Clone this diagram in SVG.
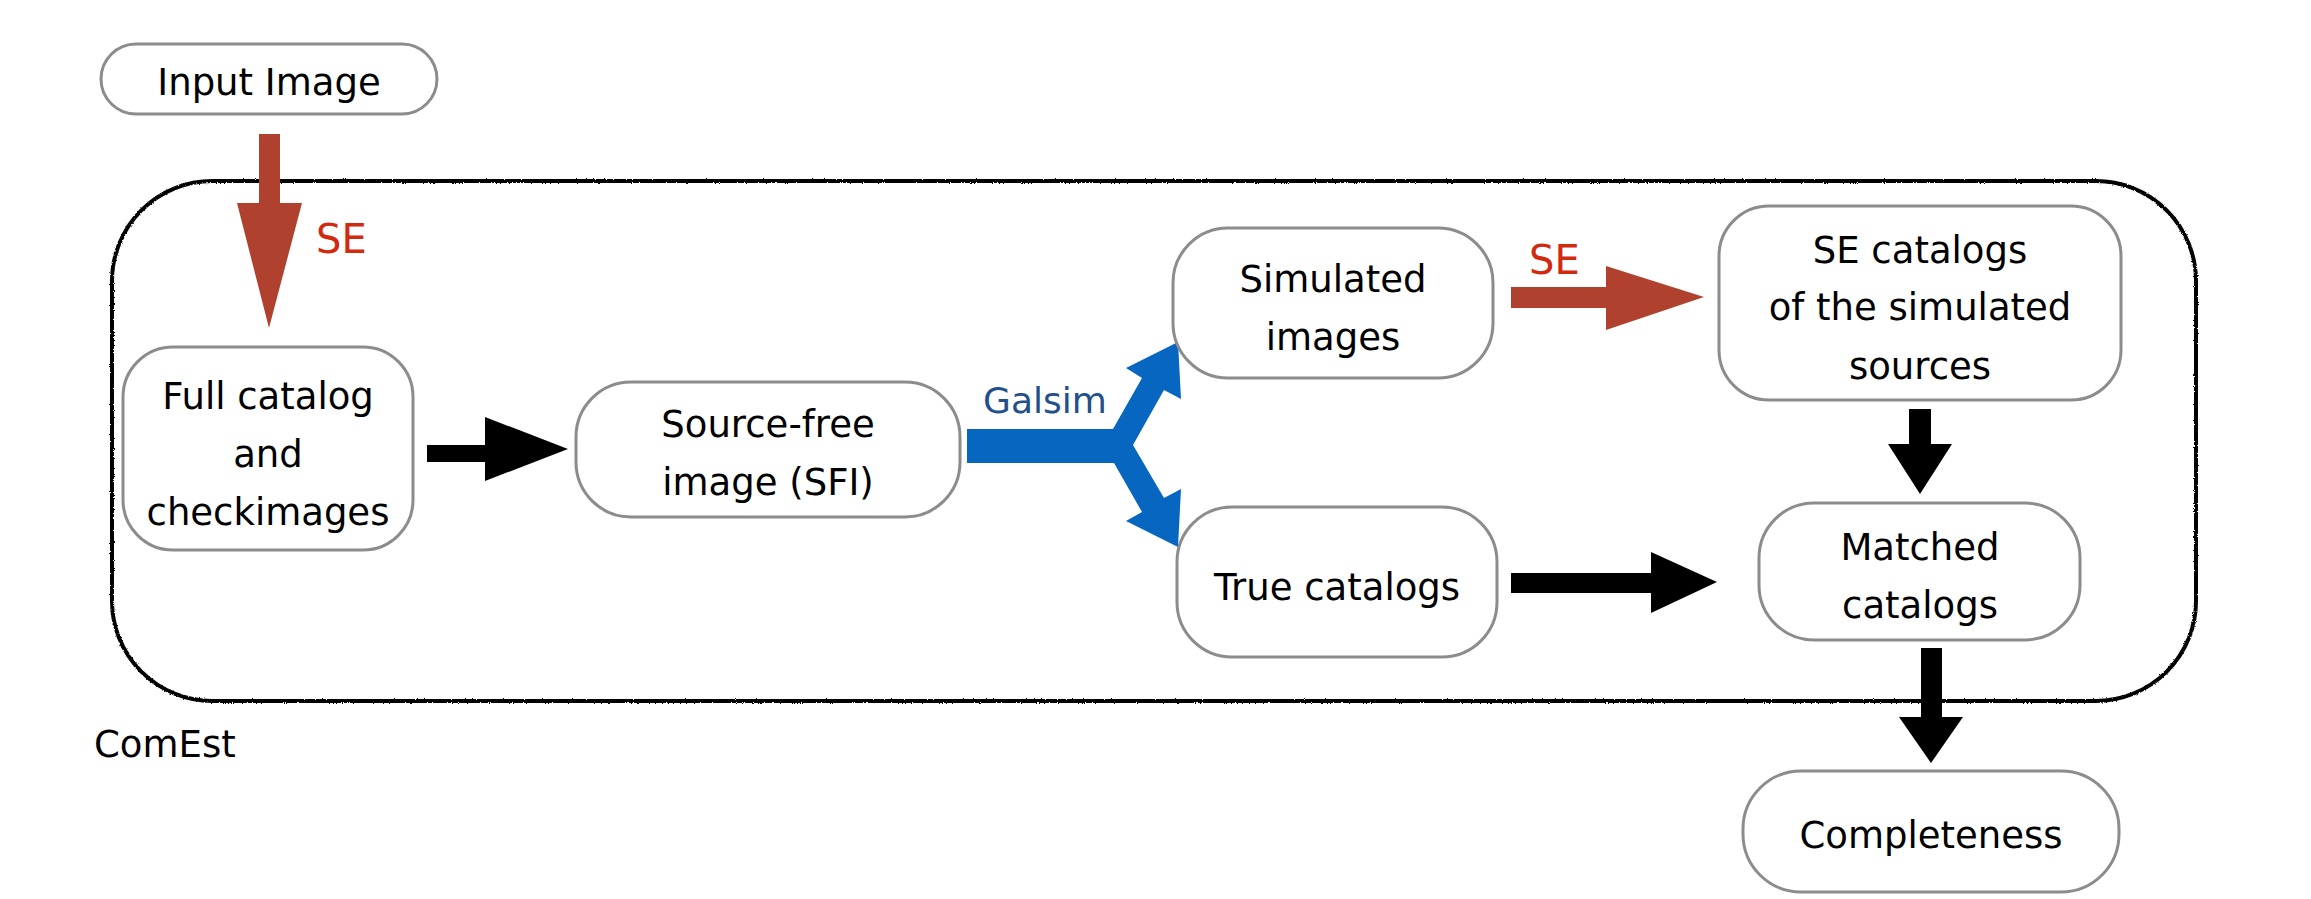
<svg xmlns="http://www.w3.org/2000/svg" width="2311" height="899" viewBox="0 0 2311 899">
  <style>
    .box { fill: #ffffff; stroke: #8c8c8c; stroke-width: 3; }
    .lbl { font-family: "DejaVu Sans", "Liberation Sans", sans-serif; font-size: 37px; fill: #000000; text-anchor: middle; }
    .se { font-family: "DejaVu Sans", "Liberation Sans", sans-serif; font-size: 40px; fill: #d22a0e; }
    .galsim { font-family: "DejaVu Sans", "Liberation Sans", sans-serif; font-size: 36px; fill: #23508a; }
    .red { fill: #b1412f; }
    .blk { fill: #000000; }
    .blue { fill: #0766c0; }
  </style>
  <defs>
    <filter id="rough" x="-2%" y="-5%" width="104%" height="110%">
      <feTurbulence type="fractalNoise" baseFrequency="0.9" numOctaves="2" seed="3" result="n"/>
      <feDisplacementMap in="SourceGraphic" in2="n" scale="2.5" xChannelSelector="R" yChannelSelector="G"/>
    </filter>
  </defs>
  <rect width="2311" height="899" fill="#ffffff"/>

  <g id="comest-container">
    <rect x="112" y="181" width="2084" height="520" rx="100" ry="100" fill="none" stroke="#000000" stroke-width="4" filter="url(#rough)"/>
    <text x="94" y="757" class="lbl" style="text-anchor:start">ComEst</text>
  </g>

  <g id="connectors">
    <polygon class="red" points="259,134 280,134 280,203 302,203 269,328 237,203 259,203"/>
    <text x="316" y="253" class="se">SE</text>
    <polygon class="blk" points="427,445 485,445 485,417 568,449 485,481 485,462 427,462"/>
    <polygon class="blue" points="967,429 1113,429 1142,378 1126,368 1178,342 1181,399 1164,390 1133,445 1164,498 1181,489 1178,547 1126,521 1142,512 1114,463 967,463"/>
    <text x="983" y="413" class="galsim">Galsim</text>
    <polygon class="red" points="1511,287 1606,287 1606,266 1704,297 1606,330 1606,308 1511,308"/>
    <text x="1529" y="274" class="se">SE</text>
    <polygon class="blk" points="1909,409 1931,409 1931,444 1952,444 1920,494 1888,444 1909,444"/>
    <polygon class="blk" points="1511,573 1651,573 1651,552 1717,582 1651,613 1651,593 1511,593"/>
    <polygon class="blk" points="1921,648 1942,648 1942,717 1963,717 1931,763 1899,717 1921,717"/>
  </g>

  <g id="input-image">
    <rect class="box" x="101" y="44" width="336" height="70" rx="35" ry="35"/>
    <text x="269" y="95" class="lbl">Input Image</text>
  </g>

  <g id="full-catalog">
    <rect class="box" x="123" y="347" width="290" height="203" rx="50" ry="50"/>
    <text x="268" y="409" class="lbl">Full catalog</text>
    <text x="268" y="467" class="lbl">and</text>
    <text x="268" y="525" class="lbl">checkimages</text>
  </g>

  <g id="source-free">
    <rect class="box" x="576" y="382" width="384" height="135" rx="55" ry="55"/>
    <text x="768" y="437" class="lbl">Source-free</text>
    <text x="768" y="495" class="lbl">image (SFI)</text>
  </g>

  <g id="simulated-images">
    <rect class="box" x="1173" y="228" width="320" height="150" rx="55" ry="55"/>
    <text x="1333" y="292" class="lbl">Simulated</text>
    <text x="1333" y="350" class="lbl">images</text>
  </g>

  <g id="true-catalogs">
    <rect class="box" x="1177" y="507" width="320" height="150" rx="55" ry="55"/>
    <text x="1337" y="600" class="lbl">True catalogs</text>
  </g>

  <g id="se-catalogs">
    <rect class="box" x="1719" y="206" width="402" height="194" rx="50" ry="50"/>
    <text x="1920" y="263" class="lbl">SE catalogs</text>
    <text x="1920" y="320" class="lbl">of the simulated</text>
    <text x="1920" y="379" class="lbl">sources</text>
  </g>

  <g id="matched-catalogs">
    <rect class="box" x="1759" y="503" width="321" height="137" rx="55" ry="55"/>
    <text x="1920" y="560" class="lbl">Matched</text>
    <text x="1920" y="618" class="lbl">catalogs</text>
  </g>

  <g id="completeness">
    <rect class="box" x="1743" y="771" width="376" height="121" rx="58" ry="58"/>
    <text x="1931" y="848" class="lbl">Completeness</text>
  </g>
</svg>
